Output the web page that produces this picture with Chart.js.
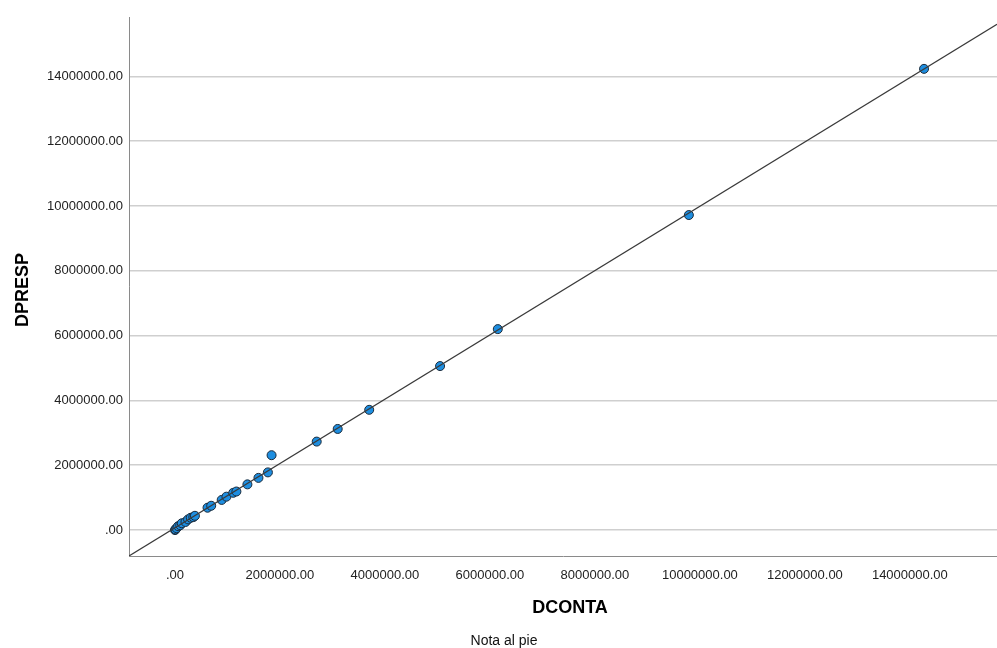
<!DOCTYPE html>
<html><head><meta charset="utf-8">
<script src="https://cdn.jsdelivr.net/npm/chart.js@4/dist/chart.umd.min.js"></script>
<style>html,body{margin:0;padding:0;background:#fff;}#wrap{width:997px;height:648px;position:relative}</style>
</head><body><div id="wrap"><canvas id="c"></canvas></div>
<script>
// Data
const dconta = [0, 10000, 30000, 60000, 100000, 130000, 200000, 250000, 300000, 350000, 380000, 620000, 690000, 890000, 980000, 1110000, 1170000, 1380000, 1590000, 1770000, 1840000, 2700000, 3100000, 3700000, 5050000, 6150000, 9790000, 14270000];
const dpresp = [0, 20000, 60000, 120000, 150000, 210000, 250000, 330000, 380000, 400000, 440000, 690000, 750000, 930000, 1030000, 1150000, 1190000, 1410000, 1610000, 1780000, 2310000, 2730000, 3120000, 3710000, 5060000, 6200000, 9720000, 14230000];
const xTicks = [0, 2000000, 4000000, 6000000, 8000000, 10000000, 12000000, 14000000];
const yTicks = [0, 2000000, 4000000, 6000000, 8000000, 10000000, 12000000, 14000000];
const xRange = [-876000, 15660000];
const yRange = [-800000, 15830000];
const fitSlope = 0.992;
const fitIntercept = 69000;
const xTitle = 'DCONTA';
const yTitle = 'DPRESP';
const footnote = 'Nota al pie';

const FONT = '"Liberation Sans", Arial, sans-serif';
const fmt = v => v === 0 ? '.00' : Number(v).toFixed(2);
const points = dconta.map((x, i) => ({x: x, y: dpresp[i]}));
const fitLine = xRange.map(x => ({x: x, y: fitSlope * x + fitIntercept}));

const titlesPlugin = {
  id: 'titles',
  afterDraw(chart) {
    const ctx = chart.ctx;
    ctx.save();
    ctx.fillStyle = '#000';
    ctx.textAlign = 'center';
    ctx.textBaseline = 'middle';
    ctx.font = 'bold 18px ' + FONT;
    ctx.fillText(xTitle, 570, 608);
    ctx.save();
    ctx.translate(23, 290);
    ctx.rotate(-Math.PI / 2);
    ctx.fillText(yTitle, 0, 0);
    ctx.restore();
    ctx.font = '14px ' + FONT;
    ctx.fillStyle = '#111';
    ctx.fillText(footnote, 504, 641);
    ctx.restore();
  }
};

new Chart(document.getElementById('c'), {
  type: 'scatter',
  data: {
    datasets: [
      {
        type: 'line',
        data: fitLine,
        borderColor: '#3a3a3a',
        borderWidth: 1.2,
        pointRadius: 0,
        fill: false,
        order: 0
      },
      {
        type: 'scatter',
        data: points,
        backgroundColor: '#1e8ee0',
        borderColor: '#1a2a3a',
        borderWidth: 1,
        pointRadius: 4.5,
        order: 1
      }
    ]
  },
  plugins: [titlesPlugin],
  options: {
    responsive: true,
    maintainAspectRatio: false,
    animation: false,
    layout: {autoPadding: false, padding: {top: 17, right: 0, bottom: 0, left: 0}},
    plugins: {legend: {display: false}, tooltip: {enabled: false}},
    scales: {
      x: {
        type: 'linear',
        min: xRange[0],
        max: xRange[1],
        afterBuildTicks: s => { s.ticks = xTicks.map(v => ({value: v})); },
        afterFit: s => { s.height = 92; s.paddingLeft = 0; s.paddingRight = 0; },
        grid: {display: false, drawTicks: false},
        border: {display: true, color: '#8a8a8a', width: 1},
        ticks: {callback: fmt, font: {size: 13, family: FONT}, color: '#222', padding: 12, maxRotation: 0, autoSkip: false}
      },
      y: {
        type: 'linear',
        min: yRange[0],
        max: yRange[1],
        afterBuildTicks: s => { s.ticks = yTicks.map(v => ({value: v})); },
        afterFit: s => { s.width = 129; s.paddingTop = 0; s.paddingBottom = 0; },
        grid: {display: true, drawTicks: false, color: '#cfcfcf', lineWidth: 1.5},
        border: {display: true, color: '#8a8a8a', width: 1},
        ticks: {callback: fmt, font: {size: 13, family: FONT}, color: '#222', padding: 6, autoSkip: false}
      }
    }
  }
});
</script>
</body></html>
